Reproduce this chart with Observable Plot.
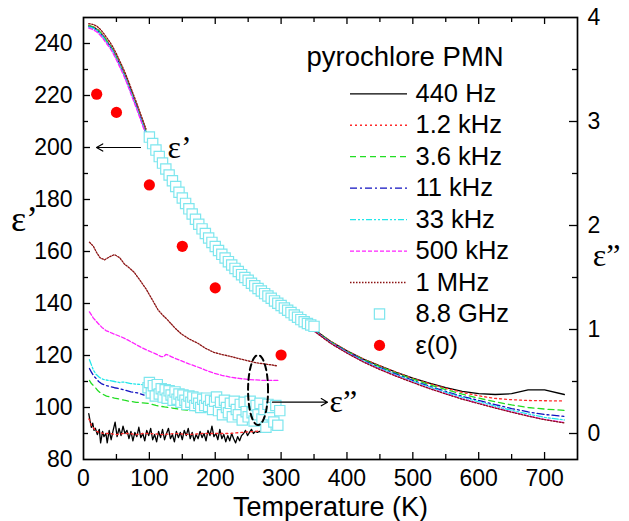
<!DOCTYPE html>
<html><head><meta charset="utf-8">
<script src="https://cdn.jsdelivr.net/npm/d3@7"></script>
<script src="https://cdn.jsdelivr.net/npm/@observablehq/plot@0.6"></script>
<style>body{margin:0;background:#fff}</style>
</head><body><div id="chart"></div>
<script>
// ---------- DATA ----------
const seriesNames = ["440 Hz","1.2 kHz","3.6 kHz","11 kHz","33 kHz","500 kHz","1 MHz"];

// eps' (left axis), low-temperature branch
const epsLowT = [8,12,16,20,25,30,35,40,45,50,55,60,65,70,75,80,85,90,95];
const e1Low_440Hz = [246.8,246.5,246.1,245.5,244.3,242.8,241.0,239.3,237.2,234.7,232.0,229.3,226.3,223.0,219.6,216.3,212.8,209.3,205.8];
const e1Low_1k2 = [247.0,246.7,246.3,245.8,244.6,243.1,241.3,239.6,237.5,235.0,232.3,229.6,226.6,223.3,219.9,216.6,213.1,209.6,206.1];
const e1Low_3k6 = [246.9,246.6,246.2,245.7,244.5,243.0,241.2,239.5,237.4,234.9,232.2,229.5,226.5,223.2,219.8,216.5,213.0,209.5,206.0];
const e1Low_11k = [246.5,246.2,245.8,245.2,244.0,242.5,240.7,239.0,236.9,234.4,231.7,229.0,226.0,222.7,219.3,216.0,212.5,209.0,205.5];
const e1Low_33k = [246.4,246.1,245.7,245.1,243.9,242.4,240.6,238.9,236.8,234.3,231.6,228.9,225.9,222.6,219.2,215.9,212.4,208.9,205.4];
const e1Low_500k = [245.9,245.6,245.1,244.5,243.3,241.8,240.0,238.3,236.2,233.7,231.0,228.3,225.3,222.0,218.6,215.3,211.8,208.3,204.8];
const e1Low_1M = [247.6,247.5,247.2,246.7,245.6,244.1,242.3,240.6,238.5,236.0,233.3,230.6,227.6,224.3,220.9,217.6,214.1,210.6,207.1];

// eps' (left axis), high-temperature branch
const epsHighT = [350,375,400,425,450,475,500,525,550,575,600,625,650,675,700,730];
const e1High_440Hz = [130.0,125.5,121.8,118.6,116.0,113.5,111.3,109.4,107.6,106.2,105.3,105.0,105.3,106.8,106.8,105.0];
const e1High_1k2 = [130.0,125.5,121.8,118.6,116.0,113.5,111.2,109.2,107.4,105.8,104.5,103.5,103.0,102.7,102.6,102.5];
const e1High_3k6 = [130.0,125.3,121.6,118.4,115.7,113.2,110.9,108.8,106.9,105.1,103.6,102.2,101.0,100.0,99.4,98.9];
const e1High_11k = [129.7,125.1,121.4,118.1,115.3,112.8,110.4,108.2,106.2,104.3,102.7,101.1,99.6,98.3,97.3,96.6];
const e1High_33k = [129.6,125.0,121.2,117.9,115.1,112.5,110.1,107.9,105.8,103.9,102.2,100.5,98.9,97.5,96.2,95.2];
const e1High_500k = [129.5,124.8,121.0,117.6,114.7,112.1,109.7,107.4,105.3,103.3,101.6,99.9,98.3,96.8,95.4,94.2];
const e1High_1M = [129.4,124.7,120.9,117.5,114.6,112.0,109.6,107.3,105.2,103.2,101.5,99.8,98.2,96.7,95.3,94.1];

// eps'' (right axis units)
const e2T_440Hz = [8,10,12,14,16,18,21,24,26,29,31,34,36,39,42,45,48,51,54,57,60,63,66,69,72,75,78,81,84,87,90,93,96,99,102,105,108,111,114,117,120,123,126,129,132,135,138,141,144,147,150,153,156,159,162,165,168,171,174,177,180,183,186,189,192,195,198,201,204,207,210,213,216,219,222,225,228,231,234,237,240,243,246,249,252,255,258,261,264,267,270,273,276,280,284];
const e2_440Hz = [0.19,0.12,0.06,0.10,0.03,0.05,-0.01,0.04,-0.09,0.02,-0.03,0.00,-0.09,0.03,-0.06,0.03,0.11,-0.03,0.05,-0.02,0.07,0.00,0.03,-0.05,0.02,-0.07,0.01,-0.03,0.06,-0.04,0.00,-0.07,0.03,-0.02,0.05,-0.06,-0.01,-0.08,0.02,-0.04,0.04,-0.06,0.00,0.05,-0.05,-0.01,-0.08,0.02,-0.04,0.01,-0.06,0.03,-0.02,0.05,-0.05,0.01,-0.07,-0.01,-0.05,0.02,-0.04,0.00,-0.07,0.03,-0.02,0.07,-0.03,0.00,-0.06,0.04,-0.05,-0.01,-0.08,-0.02,-0.07,0.00,-0.05,-0.09,-0.03,-0.07,-0.02,0.00,0.03,-0.02,0.01,0.04,0.00,0.02,0.01,0.02,0.01,0.03,0.02,0.03,0.04];
const e2T_1k2 = [8,10,12,14,17,20,25,30,40,50,60,70,80,90,100,120,140,160,180,200,220,240,260,280];
const e2_1k2 = [0.14,0.12,0.08,0.06,0.04,0.02,0.01,0.00,0.00,-0.01,0.00,0.00,-0.01,0.00,0.00,-0.01,0.00,-0.01,0.00,0.00,0.00,0.01,0.02,0.03];
const e2T_3k6 = [9,12,17,22,27,35,47,55,62,70,80,90,98,110,123,135,148,160,173,182,191];
const e2_3k6 = [0.51,0.48,0.45,0.41,0.385,0.36,0.34,0.33,0.32,0.31,0.30,0.295,0.29,0.27,0.255,0.245,0.23,0.225,0.22,0.215,0.21];
const e2T_11k = [9,12,16,19,23,27,35,47,55,62,72,82,92];
const e2_11k = [0.625,0.59,0.55,0.53,0.50,0.48,0.46,0.44,0.43,0.42,0.40,0.39,0.37];
const e2T_33k = [9,12,15,19,24,30,38,47,55,60,65,72,80,88,97];
const e2_33k = [0.71,0.66,0.61,0.57,0.54,0.52,0.51,0.50,0.49,0.495,0.49,0.48,0.475,0.47,0.47];
const e2T_500k = [9,15,22,28,34,45,57,67,77,87,97,108,118,122,125,128,133,140,148,160,173,185,198,210,224,236,249,262,275,285,297];
const e2_500k = [1.17,1.11,1.06,1.02,0.99,0.96,0.93,0.90,0.865,0.83,0.80,0.77,0.74,0.74,0.76,0.755,0.74,0.72,0.70,0.67,0.64,0.61,0.58,0.56,0.54,0.53,0.52,0.515,0.51,0.51,0.51];
const e2T_1M = [9,15,20,25,32,40,47,55,62,70,77,85,95,105,113,120,128,138,148,160,173,185,198,210,224,236,249,262,274,285,294];
const e2_1M = [1.84,1.80,1.74,1.69,1.67,1.70,1.72,1.69,1.63,1.59,1.55,1.48,1.39,1.28,1.19,1.14,1.09,1.02,0.96,0.91,0.87,0.82,0.78,0.76,0.74,0.72,0.70,0.68,0.67,0.66,0.65];

// 8.8 GHz (squares): eps' (left axis) and eps'' (right axis)
const ghzT1 = [100,105,110,115,120,125,130,135,140,145,150,155,160,165,170,175,180,185,190,195,200,205,210,215,220,225,230,235,240,245,250,255,260,265,270,275,280,285,290,295,300,305,310,315,320,325,330,335,340,345,350];
const ghzE1 = [204,201.5,199,196.5,194,191.7,189.4,187.2,185,182.8,180.6,178.5,176.4,174.4,172.4,170.5,168.7,166.9,165.2,163.5,161.9,160.4,158.9,157.5,156.1,154.8,153.5,152.3,151.1,150,148.9,147.8,146.8,145.8,144.8,143.8,142.9,142,141,140.1,139.2,138.3,137.4,136.5,135.6,134.7,133.8,133,132.3,131.7,131.2];
const ghzT2 = [98,100,103,106,109,112,115,118,121,124,127,130,133,136,139,142,145,148,151,154,157,160,163,166,169,172,175,178,181,184,187,190,193,196,199,202,205,208,211,214,217,220,223,226,229,232,235,238,241,244,247,250,253,256,259,262,265,268,271,274,277,280,283,286,289,292,295,298];
const ghzE2 = [0.44,0.49,0.39,0.46,0.36,0.47,0.38,0.43,0.35,0.42,0.34,0.41,0.37,0.32,0.40,0.33,0.38,0.30,0.37,0.32,0.28,0.36,0.30,0.35,0.27,0.34,0.29,0.25,0.33,0.27,0.34,0.26,0.32,0.23,0.31,0.35,0.22,0.30,0.18,0.32,0.25,0.20,0.29,0.16,0.31,0.23,0.18,0.28,0.13,0.30,0.21,0.16,0.31,0.20,0.12,0.27,0.18,0.29,0.14,0.23,0.06,0.28,0.18,0.25,0.11,0.27,0.08,0.22];

// eps(0) (left axis)
const eps0T = [20,50,100,150,200,300];
const eps0V = [220.5,213.5,185.6,162.0,146.0,120.2];

// tick labels
const xTickVals = [0,100,200,300,400,500,600,700];
const yLeftTickVals = [80,100,120,140,160,180,200,220,240];
const yRightTickVals = [0,1,2,3,4];

// ---------- STYLE / GEOMETRY ----------
const W = 629, H = 521, ML = 83, MR = 52, MT = 17, MB = 62;
const X0 = 0, X1 = 750, Y0 = 80, Y1 = 250;
const kx = (W - ML - MR) / (X1 - X0), ky = (H - MT - MB) / (Y1 - Y0);
const dX = px => px / kx, dY = px => px / ky;
const xAt = px => X0 + (px - ML) / kx, yAt = py => Y1 - (py - MT) / ky;
const toLeft = v => 90 + 40 * v; // eps'' -> left-axis units

const styles = [
  {color: "#000000", dash: null},
  {color: "#ff2a2a", dash: "2,3"},
  {color: "#22dd22", dash: "6,4"},
  {color: "#1010c0", dash: "7,3,2,3"},
  {color: "#22e6ea", dash: "6,2,2,2,2,2"},
  {color: "#ff22ff", dash: "4,2"},
  {color: "#8b1212", dash: "1.5,1.5"}
];
const sqColor = "#7ee6ee";

const lowArr = [e1Low_440Hz, e1Low_1k2, e1Low_3k6, e1Low_11k, e1Low_33k, e1Low_500k, e1Low_1M];
const highArr = [e1High_440Hz, e1High_1k2, e1High_3k6, e1High_11k, e1High_33k, e1High_500k, e1High_1M];
const e2Arr = [[e2T_440Hz,e2_440Hz],[e2T_1k2,e2_1k2],[e2T_3k6,e2_3k6],[e2T_11k,e2_11k],[e2T_33k,e2_33k],[e2T_500k,e2_500k],[e2T_1M,e2_1M]];

const marks = [];
seriesNames.forEach((name, i) => {
  const rows = [];
  epsLowT.forEach((t, j) => rows.push({T: t, L: lowArr[i][j], seg: "a"}));
  epsHighT.forEach((t, j) => rows.push({T: t, L: highArr[i][j], seg: "b"}));
  const [tt, vv] = e2Arr[i];
  tt.forEach((t, j) => rows.push({T: t, L: toLeft(vv[j]), seg: "c"}));
  marks.push(Plot.line(rows, {x: "T", y: "L", z: "seg", stroke: styles[i].color,
    strokeDasharray: styles[i].dash, strokeWidth: 1.3}));
});

const sq1 = ghzT1.map((t, j) => ({T: t, L: ghzE1[j]}));
const sq2 = ghzT2.map((t, j) => ({T: t, L: toLeft(ghzE2[j])}));
const sqR = 5.8;
marks.push(Plot.dot(sq1, {x: "T", y: "L", symbol: "square", r: sqR, stroke: sqColor, fill: "white", strokeWidth: 1.2}));
marks.push(Plot.dot(sq2, {x: "T", y: "L", symbol: "square", r: sqR, stroke: sqColor, fill: "white", strokeWidth: 1.2}));
marks.push(Plot.dot(eps0T.map((t, j) => ({T: t, L: eps0V[j]})), {x: "T", y: "L", r: 5.6, fill: "#ff0000"}));

// annotations
marks.push(Plot.arrow([0], {x1: xAt(140), y1: 200, x2: xAt(96), y2: 200, stroke: "#000", strokeWidth: 1.2, headLength: 9}));
marks.push(Plot.text(["ε’"], {x: xAt(167), y: 200, textAnchor: "start", lineAnchor: "middle", fontFamily: "Liberation Serif, serif", fontSize: 32}));
marks.push(Plot.arrow([0], {x1: xAt(272), y1: yAt(401.7), x2: xAt(327), y2: yAt(401.7), stroke: "#000", strokeWidth: 1.2, headLength: 9}));
marks.push(Plot.text(["ε”"], {x: xAt(329), y: yAt(401.7), textAnchor: "start", lineAnchor: "middle", fontFamily: "Liberation Serif, serif", fontSize: 32}));
const ell = d3.range(0, 361, 6).map(a => ({T: 265 + dX(10) * Math.cos(a * Math.PI / 180), L: 106.7 + dY(35) * Math.sin(a * Math.PI / 180)}));
marks.push(Plot.line(ell, {x: "T", y: "L", stroke: "#000", strokeWidth: 2, strokeDasharray: "6,4"}));

// legend
marks.push(Plot.text(["pyrochlore PMN"], {x: xAt(306), y: yAt(57), textAnchor: "start", lineAnchor: "middle", fontSize: 27.5}));
const legNames = [...seriesNames, "8.8 GHz", "ε(0)"];
legNames.forEach((name, i) => {
  const py = 93.3 + 31.45 * i;
  const ly = yAt(py);
  if (i < 7) {
    marks.push(Plot.ruleY([ly], {x1: xAt(350), x2: xAt(407), stroke: styles[i].color, strokeDasharray: styles[i].dash, strokeWidth: 1.3}));
  } else if (i === 7) {
    marks.push(Plot.dot([0], {x: xAt(379), y: ly, symbol: "square", r: sqR, stroke: sqColor, fill: "white", strokeWidth: 1.2}));
  } else {
    marks.push(Plot.dot([0], {x: xAt(379), y: ly, r: 5.6, fill: "#ff0000"}));
  }
  marks.push(Plot.text([name], {x: xAt(415), y: ly, textAnchor: "start", lineAnchor: "middle", fontSize: 25.5}));
});

// inward tick marks
const xMinor = d3.range(50, 750, 50);
marks.push(Plot.ruleX(xMinor, {x: d => d, y1: Y0, y2: d => Y0 + dY(d % 100 === 0 ? 7 : 5), stroke: "#000", strokeWidth: 1.3}));
marks.push(Plot.ruleX(xMinor, {x: d => d, y1: Y1, y2: d => Y1 - dY(d % 100 === 0 ? 7 : 5), stroke: "#000", strokeWidth: 1.3}));
const yMinor = d3.range(90, 250, 10);
marks.push(Plot.ruleY(yMinor, {y: d => d, x1: X0, x2: d => X0 + dX(d % 20 === 0 ? 7 : 5), stroke: "#000", strokeWidth: 1.3}));
const rMinor = d3.range(0, 4, 0.5);
marks.push(Plot.ruleY(rMinor, {y: d => toLeft(d), x1: d => X1 - dX(d % 1 === 0 ? 8 : 5), x2: X1, stroke: "#000", strokeWidth: 1.3}));

marks.push(Plot.frame({stroke: "#000", strokeWidth: 1.7}));

// axes
marks.push(Plot.axisX({ticks: xTickVals, tickSize: 0, tickPadding: 10, label: null, fontSize: 23}));
marks.push(Plot.axisY({anchor: "left", ticks: yLeftTickVals, tickSize: 0, tickPadding: 11, label: null, fontSize: 23}));
marks.push(Plot.axisY({anchor: "right", ticks: yRightTickVals.map(toLeft), tickFormat: d => String(Math.round((d - 90) / 40)), tickSize: 0, tickPadding: 10, label: null, fontSize: 23}));

// axis titles
marks.push(Plot.text(["Temperature (K)"], {frameAnchor: "bottom", dy: 56, lineAnchor: "bottom", fontSize: 27}));
marks.push(Plot.text(["ε’"], {x: xAt(24), y: yAt(230), textAnchor: "middle", lineAnchor: "bottom", fontFamily: "Liberation Serif, serif", fontSize: 36}));
marks.push(Plot.text(["ε”"], {x: xAt(606), y: yAt(265), textAnchor: "middle", lineAnchor: "bottom", fontFamily: "Liberation Serif, serif", fontSize: 32}));

const chart = Plot.plot({
  width: W, height: H,
  marginLeft: ML, marginRight: MR, marginTop: MT, marginBottom: MB,
  x: {domain: [X0, X1]},
  y: {domain: [Y0, Y1]},
  style: {fontFamily: "Liberation Sans, Arial, Helvetica, sans-serif", fontSize: "23px", color: "#000", background: "#fff", overflow: "visible"},
  marks
});
document.getElementById("chart").appendChild(chart);
</script>
</body></html>
